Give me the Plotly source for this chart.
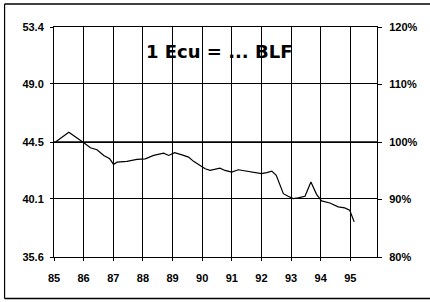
import plotly.graph_objects as go

# Data (decimal year, BLF per Ecu)
years = [85.05, 85.5, 85.97, 86.23, 86.45, 86.68, 86.88, 87.01, 87.13, 87.46, 87.8,
         88.08, 88.36, 88.59, 88.7, 88.87, 89.07, 89.32, 89.54, 89.71, 89.93, 90.1,
         90.27, 90.44, 90.6, 90.77, 91.0, 91.22, 91.5, 91.78, 92.0, 92.18, 92.35,
         92.5, 92.63, 92.74, 92.9, 93.07, 93.24, 93.47, 93.67, 93.86, 94.03, 94.31,
         94.59, 94.81, 94.98, 95.1, 95.13]
values = [44.5, 45.25, 44.5, 44.05, 43.9, 43.46, 43.2, 42.77, 42.94, 43.0, 43.15,
          43.2, 43.46, 43.6, 43.64, 43.46, 43.67, 43.5, 43.33, 43.0, 42.69, 42.43,
          42.3, 42.38, 42.48, 42.3, 42.17, 42.35, 42.25, 42.13, 42.05, 42.13, 42.25,
          41.92, 41.15, 40.5, 40.3, 40.12, 40.17, 40.3, 41.4, 40.45, 39.94, 39.78,
          39.48, 39.4, 39.22, 38.45, 38.32]

left_ticks = [35.6, 40.1, 44.5, 49.0, 53.4]
left_labels = ["<b>35.6</b>", "<b>40.1</b>", "<b>44.5</b>", "<b>49.0</b>", "<b>53.4</b>"]
right_ticks = [80, 90, 100, 110, 120]
right_labels = ["<b>80%</b>", "<b>90%</b>", "<b>100%</b>", "<b>110%</b>", "<b>120%</b>"]
x_ticks = [85, 86, 87, 88, 89, 90, 91, 92, 93, 94, 95]
x_labels = ["<b>%d</b>" % v for v in x_ticks]
title_text = "<b>1 Ecu = ... BLF</b>"

font = dict(family="Liberation Sans, Arial", size=11, color="black")

fig = go.Figure()
fig.add_trace(go.Scatter(x=years, y=values, mode="lines",
                         line=dict(color="black", width=1.2), showlegend=False))
# invisible trace for the right axis
fig.add_trace(go.Scatter(x=[85], y=[100], yaxis="y2", mode="markers",
                         marker=dict(opacity=0), showlegend=False, hoverinfo="skip"))

fig.update_layout(
    width=430, height=302,
    margin=dict(l=53.5, r=53, t=27, b=45),
    paper_bgcolor="white", plot_bgcolor="white",
    font=font,
    xaxis=dict(range=[85, 95.9], tickvals=x_ticks, ticktext=x_labels,
               showgrid=True, gridcolor="black", gridwidth=1,
               ticks="outside", ticklen=3, tickcolor="black",
               ticklabelstandoff=8,
               showline=True, linecolor="black", linewidth=1, mirror=True,
               zeroline=False, tickfont=font),
    yaxis=dict(range=[35.6, 53.4], tickvals=left_ticks, ticktext=left_labels,
               showgrid=True, gridcolor="black", gridwidth=1,
               ticks="outside", ticklen=3, tickcolor="black",
               ticklabelstandoff=4,
               showline=True, linecolor="black", linewidth=1, mirror=True,
               zeroline=False, tickfont=font),
    yaxis2=dict(range=[80, 120], tickvals=right_ticks, ticktext=right_labels,
                overlaying="y", side="right", showgrid=False,
                ticks="outside", ticklen=4, tickcolor="black",
                ticklabelstandoff=5,
                zeroline=False, tickfont=font),
    annotations=[dict(text=title_text, x=0.51, y=0.893, xref="paper", yref="paper",
                      showarrow=False, xanchor="center", yanchor="middle",
                      font=dict(family="DejaVu Sans", size=18, color="black"))],
    shapes=[
        dict(type="line", xref="paper", yref="y", x0=0, x1=1, y0=44.5, y1=44.5,
             line=dict(color="#444", width=2), layer="below"),
        # outer frame (top, left, bottom)
        dict(type="line", xref="paper", yref="paper", x0=-0.153, x1=1.17, y0=1.1, y1=1.1,
             line=dict(color="black", width=1.5)),
        dict(type="line", xref="paper", yref="paper", x0=-0.153, x1=-0.153, y0=1.1, y1=-0.18,
             line=dict(color="black", width=1.2)),
        dict(type="line", xref="paper", yref="paper", x0=-0.153, x1=1.17, y0=-0.18, y1=-0.18,
             line=dict(color="black", width=1.5)),
    ],
)

fig.write_html("out.html", config={"displayModeBar": False},
               post_script="document.body.style.margin='0';")
